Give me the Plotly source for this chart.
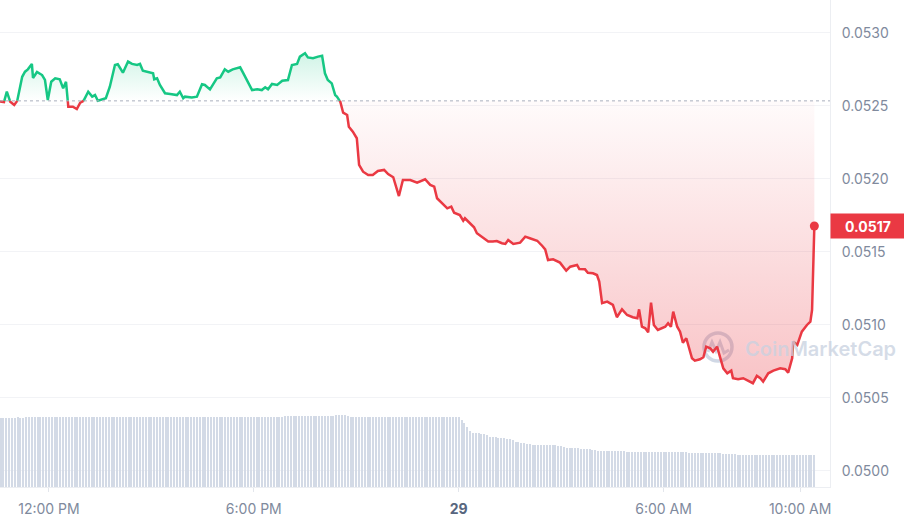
import numpy as np
import pandas as pd
import plotly.graph_objects as go

# ---------------- data ----------------
BASELINE = 0.052535  # price 24h ago (dotted reference line)

price_time = [
    "2024-05-28 10:26", "2024-05-28 10:34", "2024-05-28 10:41", "2024-05-28 10:46", "2024-05-28 10:52",
    "2024-05-28 10:59", "2024-05-28 11:04", "2024-05-28 11:13", "2024-05-28 11:18", "2024-05-28 11:23",
    "2024-05-28 11:30", "2024-05-28 11:32", "2024-05-28 11:39", "2024-05-28 11:48", "2024-05-28 11:53",
    "2024-05-28 11:58", "2024-05-28 12:04", "2024-05-28 12:11", "2024-05-28 12:19", "2024-05-28 12:25",
    "2024-05-28 12:30", "2024-05-28 12:34", "2024-05-28 12:42", "2024-05-28 12:49", "2024-05-28 12:55",
    "2024-05-28 13:00", "2024-05-28 13:09", "2024-05-28 13:16", "2024-05-28 13:21", "2024-05-28 13:26",
    "2024-05-28 13:33", "2024-05-28 13:40", "2024-05-28 13:47", "2024-05-28 13:56", "2024-05-28 14:01",
    "2024-05-28 14:10", "2024-05-28 14:19", "2024-05-28 14:26", "2024-05-28 14:35", "2024-05-28 14:40",
    "2024-05-28 14:45", "2024-05-28 14:58", "2024-05-28 15:03", "2024-05-28 15:05", "2024-05-28 15:10",
    "2024-05-28 15:15", "2024-05-28 15:24", "2024-05-28 15:33", "2024-05-28 15:45", "2024-05-28 15:50",
    "2024-05-28 15:56", "2024-05-28 15:59", "2024-05-28 16:11", "2024-05-28 16:20", "2024-05-28 16:29",
    "2024-05-28 16:34", "2024-05-28 16:43", "2024-05-28 16:55", "2024-05-28 17:01", "2024-05-28 17:09",
    "2024-05-28 17:15", "2024-05-28 17:23", "2024-05-28 17:36", "2024-05-28 17:41", "2024-05-28 17:50",
    "2024-05-28 17:57", "2024-05-28 18:06", "2024-05-28 18:14", "2024-05-28 18:20", "2024-05-28 18:25",
    "2024-05-28 18:32", "2024-05-28 18:41", "2024-05-28 18:50", "2024-05-28 19:00", "2024-05-28 19:07",
    "2024-05-28 19:16", "2024-05-28 19:21", "2024-05-28 19:30", "2024-05-28 19:35", "2024-05-28 19:44",
    "2024-05-28 19:53", "2024-05-28 20:00", "2024-05-28 20:05", "2024-05-28 20:10", "2024-05-28 20:17",
    "2024-05-28 20:23", "2024-05-28 20:26", "2024-05-28 20:32", "2024-05-28 20:37", "2024-05-28 20:44",
    "2024-05-28 20:47", "2024-05-28 20:54", "2024-05-28 21:01", "2024-05-28 21:05", "2024-05-28 21:12",
    "2024-05-28 21:21", "2024-05-28 21:29", "2024-05-28 21:38", "2024-05-28 21:49", "2024-05-28 21:56",
    "2024-05-28 22:05", "2024-05-28 22:15", "2024-05-28 22:22", "2024-05-28 22:35", "2024-05-28 22:47",
    "2024-05-28 23:01", "2024-05-28 23:10", "2024-05-28 23:17", "2024-05-28 23:22", "2024-05-28 23:33",
    "2024-05-28 23:40", "2024-05-28 23:47", "2024-05-28 23:52", "2024-05-29 00:02", "2024-05-29 00:08",
    "2024-05-29 00:11", "2024-05-29 00:20", "2024-05-29 00:27", "2024-05-29 00:32", "2024-05-29 00:43",
    "2024-05-29 00:52", "2024-05-29 01:00", "2024-05-29 01:07", "2024-05-29 01:16", "2024-05-29 01:22",
    "2024-05-29 01:27", "2024-05-29 01:36", "2024-05-29 01:48", "2024-05-29 01:57", "2024-05-29 02:05",
    "2024-05-29 02:18", "2024-05-29 02:27", "2024-05-29 02:32", "2024-05-29 02:37", "2024-05-29 02:46",
    "2024-05-29 02:58", "2024-05-29 03:03", "2024-05-29 03:09", "2024-05-29 03:16", "2024-05-29 03:28",
    "2024-05-29 03:32", "2024-05-29 03:42", "2024-05-29 03:47", "2024-05-29 03:56", "2024-05-29 04:03",
    "2024-05-29 04:07", "2024-05-29 04:12", "2024-05-29 04:21", "2024-05-29 04:31", "2024-05-29 04:38",
    "2024-05-29 04:47", "2024-05-29 04:56", "2024-05-29 05:06", "2024-05-29 05:14", "2024-05-29 05:17",
    "2024-05-29 05:22", "2024-05-29 05:28", "2024-05-29 05:33", "2024-05-29 05:38", "2024-05-29 05:43",
    "2024-05-29 05:50", "2024-05-29 06:03", "2024-05-29 06:08", "2024-05-29 06:13", "2024-05-29 06:17",
    "2024-05-29 06:24", "2024-05-29 06:29", "2024-05-29 06:34", "2024-05-29 06:40", "2024-05-29 06:43",
    "2024-05-29 06:50", "2024-05-29 06:55", "2024-05-29 07:04", "2024-05-29 07:10", "2024-05-29 07:15",
    "2024-05-29 07:22", "2024-05-29 07:27", "2024-05-29 07:34", "2024-05-29 07:39", "2024-05-29 07:45",
    "2024-05-29 07:52", "2024-05-29 07:59", "2024-05-29 08:02", "2024-05-29 08:11", "2024-05-29 08:20",
    "2024-05-29 08:29", "2024-05-29 08:37", "2024-05-29 08:44", "2024-05-29 08:50", "2024-05-29 08:55",
    "2024-05-29 09:04", "2024-05-29 09:13", "2024-05-29 09:25", "2024-05-29 09:34", "2024-05-29 09:39",
    "2024-05-29 09:46", "2024-05-29 09:48", "2024-05-29 09:55", "2024-05-29 10:03", "2024-05-29 10:12",
    "2024-05-29 10:18", "2024-05-29 10:21", "2024-05-29 10:25",
]

price_usd = [
    0.052535, 0.052530, 0.052527, 0.052598, 0.052529,
    0.052507, 0.052529, 0.052700, 0.052735, 0.052751,
    0.052788, 0.052692, 0.052733, 0.052712, 0.052678,
    0.052541, 0.052666, 0.052690, 0.052683, 0.052621,
    0.052666, 0.052495, 0.052495, 0.052479, 0.052522,
    0.052529, 0.052598, 0.052564, 0.052575, 0.052536,
    0.052546, 0.052553, 0.052632, 0.052781, 0.052786,
    0.052728, 0.052804, 0.052788, 0.052781, 0.052788,
    0.052742, 0.052728, 0.052724, 0.052683, 0.052690,
    0.052644, 0.052587, 0.052582, 0.052575, 0.052598,
    0.052553, 0.052564, 0.052559, 0.052564, 0.052649,
    0.052644, 0.052614, 0.052690, 0.052696, 0.052751,
    0.052735, 0.052751, 0.052765, 0.052728, 0.052655,
    0.052609, 0.052614, 0.052609, 0.052628, 0.052614,
    0.052651, 0.052644, 0.052673, 0.052678, 0.052781,
    0.052788, 0.052838, 0.052861, 0.052833, 0.052827,
    0.052838, 0.052844, 0.052724, 0.052678, 0.052655,
    0.052575, 0.052564, 0.052529, 0.052454, 0.052438,
    0.052358, 0.052324, 0.052279, 0.052096, 0.052050,
    0.052027, 0.052027, 0.052055, 0.052062, 0.052034,
    0.052012, 0.051883, 0.051993, 0.051993, 0.051975,
    0.051998, 0.051959, 0.051947, 0.051868, 0.051822,
    0.051799, 0.051810, 0.051769, 0.051753, 0.051714,
    0.051731, 0.051697, 0.051669, 0.051628, 0.051594,
    0.051571, 0.051571, 0.051575, 0.051560, 0.051555,
    0.051582, 0.051555, 0.051564, 0.051605, 0.051594,
    0.051577, 0.051541, 0.051518, 0.051445, 0.051450,
    0.051427, 0.051404, 0.051372, 0.051399, 0.051411,
    0.051383, 0.051381, 0.051358, 0.051354, 0.051342,
    0.051297, 0.051149, 0.051160, 0.051137, 0.051053,
    0.051107, 0.051068, 0.051053, 0.051046, 0.051107,
    0.050988, 0.050977, 0.050950, 0.051153, 0.051000,
    0.050966, 0.050988, 0.051012, 0.050988, 0.051091,
    0.050988, 0.050954, 0.050879, 0.050909, 0.050870,
    0.050772, 0.050755, 0.050765, 0.050779, 0.050851,
    0.050840, 0.050817, 0.050851, 0.050779, 0.050703,
    0.050669, 0.050687, 0.050635, 0.050628, 0.050635,
    0.050618, 0.050601, 0.050651, 0.050635, 0.050612,
    0.050669, 0.050687, 0.050703, 0.050697, 0.050673,
    0.050772, 0.050886, 0.050863, 0.050954, 0.051000,
    0.051023, 0.051103, 0.051678,
]

# 24h rolling volume (millions USD), one bar every 5 minutes starting 10:25
VOLUME_START = "2024-05-28 10:25"
volume_musd = [
    3.47, 3.47, 3.47, 3.47, 3.47, 3.46, 3.47, 3.47, 3.48, 3.47, 3.47, 3.48,
    3.48, 3.48, 3.49, 3.50, 3.50, 3.51, 3.51, 3.50, 3.50, 3.50, 3.51, 3.51,
    3.50, 3.50, 3.50, 3.49, 3.50, 3.50, 3.50, 3.50, 3.51, 3.50, 3.50, 3.50,
    3.50, 3.50, 3.50, 3.50, 3.51, 3.51, 3.51, 3.50, 3.50, 3.50, 3.51, 3.51,
    3.52, 3.52, 3.52, 3.52, 3.52, 3.52, 3.52, 3.52, 3.52, 3.52, 3.52, 3.52,
    3.52, 3.51, 3.51, 3.50, 3.50, 3.50, 3.50, 3.50, 3.50, 3.50, 3.50, 3.50,
    3.50, 3.50, 3.51, 3.51, 3.51, 3.51, 3.51, 3.51, 3.51, 3.51, 3.51, 3.51,
    3.51, 3.51, 3.52, 3.52, 3.52, 3.52, 3.51, 3.51, 3.51, 3.51, 3.51, 3.51,
    3.52, 3.52, 3.52, 3.52, 3.52, 3.52, 3.53, 3.53, 3.53, 3.53, 3.53, 3.53,
    3.53, 3.53, 3.54, 3.54, 3.54, 3.54, 3.54, 3.54, 3.55, 3.55, 3.56, 3.57,
    3.58, 3.59, 3.60, 3.58, 3.55, 3.52, 3.50, 3.49, 3.49, 3.49, 3.49, 3.49,
    3.49, 3.49, 3.49, 3.49, 3.49, 3.49, 3.49, 3.49, 3.49, 3.49, 3.49, 3.49,
    3.49, 3.49, 3.49, 3.49, 3.49, 3.49, 3.49, 3.49, 3.49, 3.49, 3.49, 3.49,
    3.49, 3.49, 3.49, 3.49, 3.49, 3.49, 3.49, 3.48, 3.35, 3.20, 3.00, 2.80,
    2.72, 2.70, 2.68, 2.65, 2.63, 2.58, 2.52, 2.50, 2.48, 2.47, 2.45, 2.43,
    2.40, 2.40, 2.35, 2.27, 2.23, 2.20, 2.19, 2.15, 2.13, 2.10, 2.10, 2.10,
    2.08, 2.08, 2.08, 2.08, 2.08, 2.08, 2.05, 2.03, 2.00, 1.97, 1.97, 1.95,
    1.94, 1.93, 1.92, 1.90, 1.90, 1.88, 1.85, 1.83, 1.80, 1.80, 1.80, 1.79,
    1.79, 1.79, 1.78, 1.78, 1.78, 1.78, 1.77, 1.77, 1.77, 1.77, 1.77, 1.77,
    1.76, 1.76, 1.75, 1.75, 1.75, 1.75, 1.75, 1.74, 1.74, 1.74, 1.74, 1.74,
    1.73, 1.73, 1.73, 1.73, 1.72, 1.72, 1.72, 1.72, 1.72, 1.72, 1.71, 1.71,
    1.70, 1.69, 1.69, 1.68, 1.67, 1.66, 1.65, 1.64, 1.63, 1.62, 1.61, 1.60,
    1.60, 1.60, 1.60, 1.60, 1.60, 1.60, 1.60, 1.60, 1.60, 1.60, 1.60, 1.60,
    1.60, 1.60, 1.60, 1.60, 1.60, 1.60, 1.60, 1.60, 1.60, 1.60, 1.60, 1.60,
    1.60,
]

x_tick_vals = ["2024-05-28 12:00", "2024-05-28 18:00", "2024-05-29 00:00",
               "2024-05-29 06:00", "2024-05-29 10:00"]
x_tick_text = ["12:00 PM", "6:00 PM", "<b><span style='color:#58667e'>29</span></b>",
               "6:00 AM", "10:00 AM"]
y_tick_vals = [0.0500, 0.0505, 0.0510, 0.0515, 0.0520, 0.0525, 0.0530]
LAST_LABEL = "0.0517"

# ---------------- styling ----------------
GREEN = "#16c784"
RED = "#ea3943"
AXIS_TXT = "#808a9d"
GRID = "#f2f3f6"
FONT = "Inter"
W, H = 904, 522
ML, MR, MT, MB = 0, 74, 0, 35
PW, PH = W - ML - MR, H - MT - MB

# ---------------- derived series ----------------
t = pd.to_datetime(price_time)
p = np.array(price_usd, dtype=float)
ts = t.asi8.astype(float)
xs, ys = [ts[0]], [p[0]]
for i in range(1, len(p)):
    a, b = p[i - 1] - BASELINE, p[i] - BASELINE
    if a * b < 0:
        f = a / (a - b)
        xs.append(ts[i - 1] + f * (ts[i] - ts[i - 1]))
        ys.append(BASELINE)
    xs.append(ts[i])
    ys.append(p[i])
X = pd.to_datetime(np.array(xs).astype("int64"))
Y = np.array(ys)
green_y = np.where(Y >= BASELINE, Y, np.nan)
red_y = np.where(Y <= BASELINE, Y, np.nan)
up_fill = np.maximum(Y, BASELINE)
dn_fill = np.minimum(Y, BASELINE)
base_line = np.full(len(Y), BASELINE)

vol_t = pd.date_range(VOLUME_START, periods=len(volume_musd), freq="5min")

fig = go.Figure()
fig.add_trace(go.Bar(x=vol_t, y=volume_musd, yaxis="y2", marker_color="#d3dae6",
                     marker_line_width=0, width=110000, hoverinfo="skip", showlegend=False))
# green area
fig.add_trace(go.Scatter(x=X, y=base_line, mode="lines", line_width=0, hoverinfo="skip", showlegend=False))
fig.add_trace(go.Scatter(x=X, y=up_fill, mode="lines", line_width=0, fill="tonexty",
                         fillgradient=dict(type="vertical", start=BASELINE, stop=float(p.max()),
                                           colorscale=[[0, "rgba(22,199,132,0.0)"], [1, "rgba(22,199,132,0.20)"]]),
                         hoverinfo="skip", showlegend=False))
# red area
fig.add_trace(go.Scatter(x=X, y=base_line, mode="lines", line_width=0, hoverinfo="skip", showlegend=False))
fig.add_trace(go.Scatter(x=X, y=dn_fill, mode="lines", line_width=0, fill="tonexty",
                         fillgradient=dict(type="vertical", start=float(p.min()), stop=BASELINE,
                                           colorscale=[[0, "rgba(234,57,67,0.30)"], [1, "rgba(234,57,67,0.02)"]]),
                         hoverinfo="skip", showlegend=False))
# lines
fig.add_trace(go.Scatter(x=X, y=green_y, mode="lines", line=dict(color=GREEN, width=2.5),
                         connectgaps=False, showlegend=False))
fig.add_trace(go.Scatter(x=X, y=red_y, mode="lines", line=dict(color=RED, width=2.5),
                         connectgaps=False, showlegend=False))
fig.add_trace(go.Scatter(x=[t[-1]], y=[p[-1]], mode="markers",
                         marker=dict(color=RED, size=9), showlegend=False))

# helpers for pixel-placed decorations
def px(xp):
    return (xp - ML) / PW

def py(yp):
    return 1 - (yp - MT) / PH

shapes = [
    dict(type="line", xref="paper", x0=0, x1=1, yref="y", y0=BASELINE, y1=BASELINE,
         line=dict(color="#a9b0bd", width=1, dash="dot"), layer="above"),
    # watermark logo
    dict(type="circle", xref="paper", yref="paper", x0=px(704), x1=px(732), y0=py(361), y1=py(333),
         line=dict(color="rgba(200,209,224,0.85)", width=3.5), layer="below"),
    dict(type="path", xref="paper", yref="paper",
         path=("M {:.5f},{:.5f} L {:.5f},{:.5f} L {:.5f},{:.5f} L {:.5f},{:.5f} L {:.5f},{:.5f} L {:.5f},{:.5f}"
               .format(px(708), py(352), px(712), py(342), px(716), py(351), px(720), py(342),
                       px(724), py(353), px(729), py(350))),
         line=dict(color="rgba(200,209,224,0.85)", width=3), layer="below"),
]

annotations = [
    dict(xref="paper", x=px(743), xanchor="left", yref="paper", y=py(349), yanchor="middle",
         text="CoinMarketCap", showarrow=False,
         font=dict(family=FONT, size=20, color="rgba(200,209,224,0.75)", weight=600)),
    dict(xref="paper", x=1, xanchor="left", yref="y", y=float(p[-1]), yanchor="middle",
         text="<b>" + LAST_LABEL + "</b>", showarrow=False, bgcolor=RED,
         width=70, height=20, borderpad=2, align="center",
         font=dict(family=FONT, size=14, color="white")),
]

fig.update_layout(
    width=W, height=H,
    margin=dict(l=ML, r=MR, t=MT, b=MB, pad=0),
    paper_bgcolor="white", plot_bgcolor="white",
    font=dict(family=FONT, size=14, color=AXIS_TXT),
    bargap=0,
    showlegend=False,
    xaxis=dict(type="date", range=["2024-05-28 10:34", "2024-05-29 10:52:30"],
               tickvals=x_tick_vals, ticktext=x_tick_text,
               showgrid=False, zeroline=False,
               showline=True, linecolor="#eceef2", linewidth=1,
               ticks="outside", ticklen=4, tickcolor="#e3e6ec", ticklabelstandoff=5,
               tickfont=dict(family=FONT, size=14, color=AXIS_TXT)),
    yaxis=dict(side="right", range=[0.049890, 0.053226],
               tickvals=y_tick_vals, tickformat=".4f",
               showgrid=True, gridcolor=GRID, gridwidth=1, zeroline=False,
               showline=True, linecolor="#eceef2", linewidth=1,
               ticks="outside", ticklen=8, tickcolor="rgba(0,0,0,0)",
               tickfont=dict(family=FONT, size=14, color=AXIS_TXT)),
    yaxis2=dict(overlaying="y", side="left", range=[0, PH * 0.05], visible=False),
    shapes=shapes,
    annotations=annotations,
)

fig.write_html("out.html", config={"displayModeBar": False},
               post_script="document.body.style.margin='0';document.body.style.overflow='hidden';")
